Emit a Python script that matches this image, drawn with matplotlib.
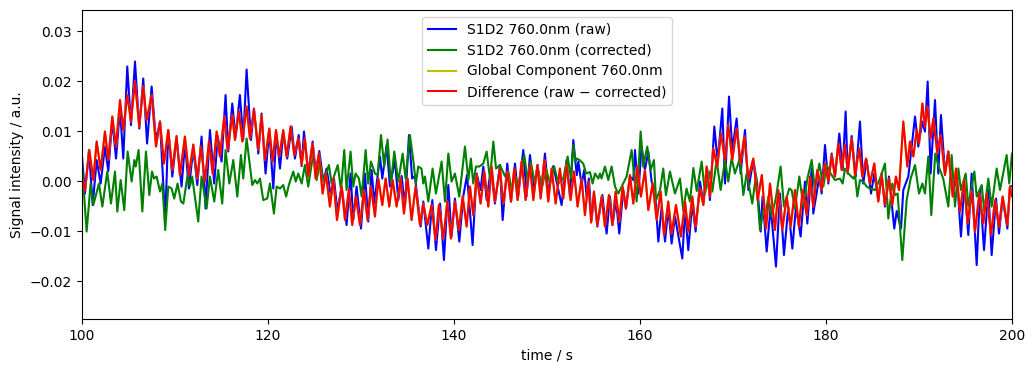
import numpy as np
import matplotlib
matplotlib.use("Agg")
import matplotlib.pyplot as plt

# values in units of 1e-3 a.u. (turning points)
raw_t = [100.0, 100.32, 100.75, 101.15, 101.58, 102.01, 102.47, 102.83, 103.26, 103.66,
         104.09, 104.44, 104.87, 105.27, 105.70, 106.16, 106.59, 107.0, 107.49, 107.96,
         108.39, 108.95, 109.28, 109.71, 110.17, 110.71, 111.07, 111.50, 111.97, 112.40,
         112.86, 113.29, 113.76, 114.22, 114.60, 115.01, 115.44, 115.73, 116.16, 116.52,
         116.98, 117.34, 117.70, 118.17, 118.49, 118.96, 119.31, 119.74, 120.14, 120.57,
         120.90, 121.29, 121.64, 122.07, 122.54, 122.9, 123.3, 123.62, 123.87, 124.33,
         124.80, 125.12, 125.52, 125.95, 126.3, 126.77, 127.1, 127.45, 127.92, 128.45,
         128.88, 129.17, 129.53, 130.0, 130.43, 130.78, 131.14, 131.43, 132.04, 132.29,
         132.76, 133.11, 133.65, 134.01, 134.37, 134.73, 135.16, 135.5, 135.8, 136.41,
         136.70, 137.24, 137.67, 138.06, 138.5, 138.92, 139.39, 139.74, 140.10, 140.57,
         141.0, 141.4, 142.0, 142.43, 142.86, 143.15, 143.51, 143.97, 144.40, 144.94,
         145.23, 145.73, 146.13, 146.56, 146.9, 147.45, 147.8, 148.17, 148.6, 149.0,
         149.35, 149.78, 150.14, 150.68, 151.57, 152.11, 152.47, 152.83, 153.2, 153.37,
         153.72, 154.0, 154.26, 154.5, 154.80, 155.05, 155.41, 155.95, 156.41, 156.77,
         157.05, 157.42, 157.77, 158.2, 158.49, 158.92, 159.28, 159.46, 159.82, 160.17,
         160.53, 160.89, 161.25, 161.6, 161.97, 162.33, 162.69, 163.04, 163.40, 163.76,
         164.55, 164.84, 165.19, 165.62, 165.98, 166.45, 166.81, 167.23, 167.52, 167.99,
         168.35, 168.85, 169.14, 169.57, 169.92, 170.39, 170.82, 171.29, 171.65, 172.18,
         172.6, 172.97, 173.18, 173.62, 174.05, 174.62, 175.05, 175.48, 175.95, 176.38,
         176.77, 177.27, 177.74, 177.99, 178.46, 178.63, 179.28, 179.53, 179.89, 180.25,
         180.61, 180.96, 181.43, 181.79, 182.11, 182.33, 182.76, 183.19, 183.65, 184.0,
         184.37, 184.84, 185.19, 185.62, 185.98, 186.34, 186.77, 187.34, 187.6, 188.06,
         188.31, 188.85, 189.57, 189.92, 190.36, 190.64, 190.93, 191.25, 191.72, 192.07,
         192.36, 192.79, 193.15, 193.69, 194.05, 194.51, 194.87, 195.30, 195.66, 196.20,
         196.56, 196.99, 197.45, 197.81, 198.28, 198.60, 198.99, 199.50, 199.78, 200.0]
raw_v = [5.0, -2.5, 6.2, -4.8, 4.2, -0.5, 6.9, 2.0, 12.2, 4.5,
         14.5, 4.5, 22.9, 11.2, 23.9, 10.5, 20.5, 7.5, 18.9, 8.0,
         11.9, -8.0, 10.2, 0.9, 8.5, -1.1, 7.5, -1.5, 6.5, -0.8,
         8.9, -5.5, 10.2, -0.5, 9.0, 3.9, 17.2, 5.9, 15.5, 8.8,
         17.2, 8.2, 22.3, 8.2, 14.5, 5.5, 13.5, 1.5, 10.2, -1.5,
         9.6, 2.5, 9.6, 4.5, 10.9, 4.5, 9.2, 3.0, 9.9, 1.5,
         7.9, 1.9, 6.0, -0.1, 2.5, -3.1, 0.5, -6.0, -1.1, -8.8,
         1.5, -7.8, -1.1, -9.5, 1.5, -8.1, 2.2, -4.5, 4.9, 0.5,
         7.2, -1.1, 4.2, -3.8, 1.0, -5.1, 9.2, 0.5, 1.0, -9.1,
         -4.1, -13.5, -3.8, -13.8, -4.5, -15.8, -0.8, -11.1, -3.5, -12.1,
         -3.0, 1.2, -12.8, 1.5, -1.8, 2.9, -3.8, 2.5, -4.5, 3.2,
         -7.8, 3.5, -4.1, 3.5, -3.1, 6.2, -3.1, 5.2, -2.1, 3.2,
         -2.5, 5.5, -2.5, 3.0, -4.8, 4.2, -3.1, 8.2, 1.2, 3.9,
         -0.8, 2.2, -3.1, 0.5, -7.8, -2.5, -9.1, -2.8, -10.5, -3.1,
         -8.8, -3.8, -10.5, -1.8, -5.5, 0.9, 0.2, 6.2, -2.5, 6.9,
         2.2, 5.9, -0.1, -1.8, -12.1, -5.1, -12.1, -5.5, -12.5, -7.1,
         -15.5, -5.5, -13.8, -4.5, -10.1, -0.1, -4.5, 2.5, -3.8, 10.9,
         3.9, 14.5, -0.5, 16.9, 6.2, 12.5, 1.5, 10.2, -1.8, 4.2,
         -0.5, -10.1, -3.1, -14.1, -5.1, -17.1, -2.5, -14.8, -5.1, -13.5,
         -5.1, -11.1, -0.1, -8.5, 2.5, -6.5, 0.9, -2.5, 7.2, -0.5,
         5.5, 0.9, 9.5, 2.2, 13.9, 1.5, 9.0, 0.9, 11.9, -0.5,
         4.2, -2.5, 1.5, -3.8, 1.5, -5.1, 0.9, -9.5, -6.0, -9.5,
         -1.8, 0.9, 12.9, 6.9, 11.9, 9.9, 19.9, 1.5, 16.2, 1.5,
         13.2, 1.5, 5.9, -2.5, 1.5, -11.1, -0.5, -10.8, 1.5, -16.8,
         -1.8, -13.8, -1.8, -14.8, -3.5, -10.5, -3.5, -9.5, -1.1, -1.0]

corr_t = [100.0, 100.50, 100.93, 101.22, 101.83, 102.19, 102.72, 103.12, 103.55, 103.80,
          104.16, 104.55, 104.91, 105.34, 105.63, 105.78, 106.09, 106.49, 106.88, 107.24,
          107.53, 107.75, 108.03, 108.39, 108.64, 108.95, 109.28, 109.64, 109.92, 110.28,
          110.64, 110.90, 111.36, 111.61, 111.85, 112.50, 112.86, 113.40, 113.76, 114.22,
          114.65, 115.08, 115.44, 115.84, 116.27, 116.70, 117.09, 117.34, 117.70, 118.31,
          118.60, 118.85, 119.14, 119.49, 119.92, 120.21, 120.64, 120.93, 121.29, 121.64,
          121.95, 122.29, 122.72, 122.98, 123.26, 123.62, 123.97, 124.33, 124.87, 125.23,
          125.59, 125.95, 126.55, 126.84, 127.5, 127.85, 128.20, 128.45, 128.88, 129.17,
          129.42, 129.78, 130.07, 130.50, 130.78, 131.07, 131.50, 131.79, 132.15, 132.50,
          132.86, 133.22, 133.58, 134.01, 134.48, 134.80, 135.26, 135.62, 135.90, 136.16,
          136.50, 136.70, 136.88, 137.24, 137.70, 138.06, 138.67, 139.03, 139.39, 139.74,
          140.10, 140.57, 141.18, 141.54, 141.82, 142.07, 142.36, 142.72, 143.15, 143.51,
          143.87, 144.23, 144.52, 144.94, 145.5, 145.84, 146.20, 146.55, 146.90, 147.20,
          147.56, 147.92, 148.24, 148.63, 149.06, 149.49, 149.89, 150.32, 150.78, 151.21,
          151.75, 152.22, 152.58, 152.83, 153.05, 153.20, 153.50, 153.90, 154.20, 154.62,
          154.9, 155.16, 155.52, 155.7, 155.87, 156.23, 156.59, 156.95, 157.31, 157.67,
          157.92, 158.56, 159.10, 159.64, 160.07, 160.35, 160.78, 161.14, 161.5, 161.72,
          162.15, 162.50, 162.79, 163.22, 163.76, 164.30, 164.66, 165.0, 165.37, 165.74,
          166.1, 166.63, 166.99, 167.52, 167.78, 168.24, 168.67, 169.14, 169.49, 169.85,
          170.21, 170.75, 171.11, 171.47, 172.07, 172.47, 172.90, 173.26, 173.44, 173.8,
          174.15, 174.6, 175.12, 175.48, 176.05, 176.3, 176.66, 177.13, 177.56, 178.0,
          178.46, 178.81, 179.28, 179.71, 180.07, 180.5, 180.96, 181.5, 181.79, 182.04,
          182.4, 182.94, 183.12, 183.37, 183.65, 184.0, 184.37, 184.73, 185.27, 185.8,
          186.34, 186.70, 187.13, 187.42, 187.7, 188.20, 188.67, 189.1, 189.57, 190.0,
          190.36, 190.64, 191.0, 191.32, 191.75, 192.1, 192.6, 193.15, 193.51, 193.87,
          194.23, 194.51, 195.02, 195.30, 195.95, 196.2, 196.74, 197.02, 197.45, 197.81,
          198.35, 198.71, 199.42, 199.70, 200.0]
corr_v = [3.5, -10.1, -0.5, -4.8, -0.5, -5.1, 1.9, -4.5, 1.9, -6.1,
          0.2, -5.8, 5.9, -0.1, 4.2, 2.9, 6.2, -6.1, 5.9, -2.8,
          1.9, 0.5, 0.9, -2.1, -0.5, -9.8, -1.1, -1.5, -3.5, -0.5,
          -4.1, -4.5, 1.2, -1.1, 0.9, -8.1, 0.9, -5.5, 0.9, -4.1,
          2.2, -4.5, 6.2, -0.5, 4.2, -3.1, 5.2, 0.5, 8.5, -0.8,
          0.2, -0.5, 0.5, -3.8, -3.5, -0.5, -6.5, -1.1, -1.5, -0.8,
          -3.1, -0.5, 1.9, -0.1, 1.5, -0.5, 3.2, -1.1, 5.5, 0.2,
          3.9, -0.1, 3.2, -0.5, 3.2, -1.8, 6.2, -1.8, 5.9, -1.1,
          1.5, 0.5, -3.1, 6.2, -0.5, 3.9, 1.5, 1.2, 9.2, 2.9,
          8.3, -0.5, 5.9, -0.1, 5.5, 0.5, 9.2, 4.2, -0.5, 2.9,
          2.5, -0.5, 0.9, -4.1, 2.5, -2.5, 3.9, -4.1, 5.5, -0.1,
          1.5, -3.1, 6.9, 0.2, 4.5, -0.5, 2.9, 2.9, 3.5, 5.9,
          0.5, 7.9, 2.5, 3.2, 0.9, 1.9, -1.8, 1.2, -0.8, 2.0,
          5.2, 0.0, 3.9, 0.2, 1.9, -1.1, 2.5, -0.5, 2.9, -0.5,
          0.5, 4.9, 0.5, 7.2, 4.0, 4.5, 4.2, 3.5, 1.5, 1.8,
          -0.5, 1.5, 0.5, 1.5, 0.5, 2.9, 0.2, 2.9, -1.1, -2.5,
          -1.5, 0.9, 6.2, -4.1, 9.9, 2.9, 6.9, 2.2, 4.2, -3.8,
          -1.8, 2.5, -2.8, 1.9, -2.5, 0.5, -6.0, -1.5, -4.1, 2.6,
          -2.0, 3.9, -2.5, 1.9, -2.1, 4.2, -1.8, 4.2, -0.1, 4.6,
          1.5, 4.6, -2.8, 1.5, -4.5, 1.2, -9.8, -5.8, -7.1, -3.1,
          -7.1, -3.5, 2.9, -5.1, -1.5, -1.8, -5.5, 0.9, -5.1, 0.5,
          4.2, -1.8, 3.5, -1.1, 3.2, 1.5, 0.2, 0.5, -0.5, 2.5,
          1.5, 0.5, 1.2, -3.1, 0.2, -0.1, -1.1, -1.5, -1.8, 0.5,
          3.5, -7.5, -0.5, -2.8, -2.5, -15.8, -3.8, 0.5, 3.2, -2.5,
          -0.5, -2.5, 4.9, -6.8, 5.5, 3.0, 0.5, -5.1, 5.2, -5.1,
          2.5, -1.8, 1.5, -5.1, 1.9, -3.1, -0.8, -6.1, 0.5, -5.1,
          2.5, -1.8, 5.2, -0.5, 5.5]

diff_t = [100.0, 100.32, 100.79, 101.22, 101.58, 102.01, 102.47, 102.83, 103.26, 103.66,
          104.09, 104.44, 104.87, 105.27, 105.70, 106.16, 106.59, 106.95, 107.49, 107.96,
          108.39, 108.82, 109.27, 109.71, 110.17, 110.53, 111.07, 111.50, 111.97, 112.40,
          112.79, 113.22, 113.65, 114.05, 114.48, 114.83, 115.30, 115.66, 116.16, 116.45,
          116.88, 117.24, 117.70, 118.06, 118.49, 118.96, 119.31, 119.67, 120.14, 120.50,
          120.86, 121.21, 121.64, 122.00, 122.43, 122.83, 123.26, 123.62, 123.97, 124.33,
          124.80, 125.12, 125.48, 125.87, 126.23, 126.66, 127.02, 127.42, 127.92, 128.28,
          128.70, 129.06, 129.46, 129.89, 130.32, 130.71, 131.07, 131.50, 131.86, 132.29,
          132.65, 133.04, 133.40, 133.83, 134.26, 134.62, 135.01, 135.44, 135.87, 136.34,
          136.70, 137.13, 137.59, 138.02, 138.38, 138.85, 139.28, 139.67, 140.10, 140.53,
          140.93, 141.36, 141.72, 142.07, 142.43, 142.86, 143.26, 143.69, 144.05, 144.40,
          144.94, 145.30, 145.75, 146.13, 146.48, 146.84, 147.27, 147.70, 148.17, 148.53,
          148.96, 149.32, 149.71, 150.14, 150.50, 150.93, 151.39, 151.75, 152.11, 152.54,
          152.90, 153.29, 153.72, 154.08, 154.44, 154.75, 155.05, 155.41, 155.87, 156.23,
          156.66, 157.02, 157.38, 157.77, 158.13, 158.49, 158.92, 159.28, 159.71, 160.10,
          160.53, 160.89, 161.36, 161.79, 162.22, 162.58, 163.04, 163.40, 163.87, 164.40,
          164.84, 165.19, 165.62, 165.98, 166.45, 166.81, 167.16, 167.52, 167.88, 168.31,
          168.71, 169.14, 169.49, 169.92, 170.39, 170.82, 171.21, 171.65, 172.18, 172.65,
          173.10, 173.55, 173.98, 174.51, 174.87, 175.30, 175.77, 176.20, 176.66, 177.09,
          177.49, 177.92, 178.28, 178.63, 179.06, 179.53, 179.89, 180.25, 180.61, 180.96,
          181.32, 181.68, 182.04, 182.33, 182.76, 183.12, 183.58, 183.90, 184.30, 184.73,
          185.19, 185.62, 185.98, 186.34, 186.77, 187.13, 187.52, 187.85, 188.31, 188.74,
          189.03, 189.39, 189.75, 190.00, 190.36, 190.64, 190.89, 191.25, 191.54, 191.97,
          192.33, 192.79, 193.15, 193.62, 193.98, 194.41, 194.84, 195.23, 195.66, 196.02,
          196.48, 196.91, 197.27, 197.74, 198.17, 198.60, 198.99, 199.50, 199.78, 200.0]
diff_v = [0.5, -1.8, 6.2, 0.2, 7.9, 2.2, 9.9, 4.2, 12.9, 6.9,
          16.2, 10.2, 17.2, 11.9, 19.9, 10.9, 18.9, 12.2, 17.2, 6.9,
          11.9, 3.5, 10.2, 2.2, 9.0, 1.2, 8.9, 1.2, 7.3, 0.5,
          6.9, -0.1, 7.9, 1.5, 9.9, 4.9, 12.9, 6.2, 13.2, 8.2,
          13.9, 7.9, 14.9, 8.5, 14.3, 6.2, 13.2, 4.2, 10.5, 3.9,
          10.2, 4.9, 10.2, 4.9, 10.9, 5.2, 8.5, 3.2, 8.5, 0.9,
          7.5, 0.5, 5.5, -2.5, 1.5, -5.1, 0.5, -7.8, -1.1, -7.8,
          -1.7, -8.8, -3.1, -8.8, -1.8, -7.8, -1.1, -7.1, 0.5, -4.8,
          0.5, -5.1, 0.2, -5.1, 0.5, -6.5, 0.5, -7.8, -1.1, -8.8,
          -4.5, -8.8, -4.8, -11.8, -4.8, -11.5, -4.1, -11.5, -4.1, -9.8,
          -3.1, -9.1, -1.1, -6.8, 1.2, -4.5, 1.9, -5.1, 2.9, -4.1,
          2.5, -4.5, 1.9, -4.1, 2.5, -3.8, 3.9, -3.8, 3.2, -3.8,
          3.2, -3.5, 4.2, -4.1, 2.5, -4.5, 2.5, -3.5, 3.2, -3.8,
          1.9, -5.1, 0.5, -6.8, -0.1, -8.3, -2.1, -8.8, -3.1, -9.1,
          -2.8, -8.8, -2.1, -8.1, -1.1, -5.5, 1.2, -4.5, 2.9, -3.1,
          2.2, -5.8, -0.5, -7.8, -2.1, -10.8, -4.1, -10.5, -4.8, -11.1,
          -4.1, -10.1, -3.1, -9.1, -1.5, -4.8, 2.9, -3.1, 6.5, 2.9,
          9.5, 4.2, 11.2, 4.2, 10.5, 3.5, 8.9, 0.5, 4.5, -3.8,
          1.2, -9.5, -0.5, -9.8, -1.8, -9.8, -3.1, -9.1, -1.8, -9.1,
          -1.8, -6.8, 0.9, -5.1, 2.2, -1.8, 3.5, -0.1, 5.2, 0.9,
          7.5, 2.2, 7.2, 1.9, 8.5, 1.2, 6.5, 0.9, 4.5, -0.5,
          3.5, -4.1, 1.2, -4.8, 0.5, -4.8, 0.9, -1.8, 11.9, 2.9,
          7.9, 4.9, 10.2, 7.5, 15.5, 10.9, 14.9, 8.5, 12.5, 5.5,
          9.2, 1.2, 5.9, -3.1, 2.5, -6.1, 0.2, -8.5, -2.1, -10.1,
          -2.5, -8.5, -2.5, -10.8, -3.8, -9.1, -3.1, -8.8, -1.1, -3.0]

scale = 1e-3

fig, ax = plt.subplots(figsize=(10.35, 3.71), dpi=100)
fig.subplots_adjust(left=0.0792, right=0.9778, top=0.973, bottom=0.140)

ax.plot(raw_t, np.array(raw_v) * scale, color='b', label='S1D2 760.0nm (raw)')
ax.plot(corr_t, np.array(corr_v) * scale, color='g', label='S1D2 760.0nm (corrected)')
ax.plot(diff_t, np.array(diff_v) * scale, color='y', label='Global Component 760.0nm')
ax.plot(diff_t, np.array(diff_v) * scale, color='r', label='Difference (raw \u2212 corrected)')

ax.set_xlim(100, 200)
ax.set_ylim(-0.0276, 0.0342)
ax.set_yticks([-0.02, -0.01, 0.0, 0.01, 0.02, 0.03])
ax.set_xlabel('time / s')
ax.set_ylabel('Signal intensity / a.u.')
ax.legend(loc='upper center')

plt.savefig('out.png')
